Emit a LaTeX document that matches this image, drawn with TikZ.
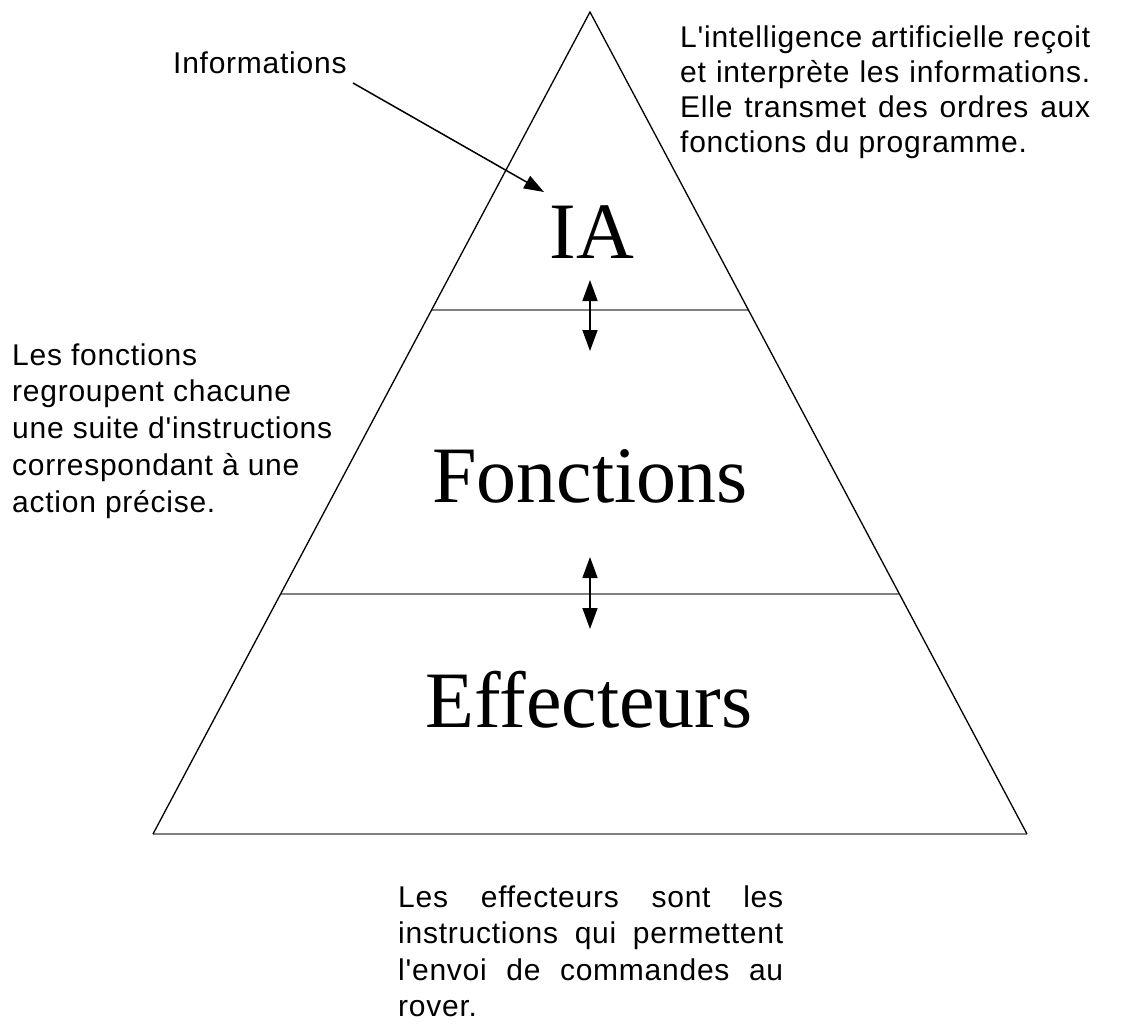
\documentclass[tikz,border=0pt]{standalone}
\usepackage{fontspec}
\setmainfont{Liberation Serif}
\newfontfamily\lsans[LetterSpace=2.5,Ligatures=TeXOff]{Liberation Sans}
\usetikzlibrary{arrows.meta}
\begin{document}
\begin{tikzpicture}[x=1pt,y=-1pt,
  edge/.style={line width=1.3pt, black},
  divider/.style={line width=1.8pt, black!50},
  big/.style={font=\fontsize{80}{90}\selectfont, inner sep=0pt, anchor=base},
  note/.style={font=\lsans\fontsize{30}{35}\selectfont, inner sep=0pt, anchor=base west},
  link/.style={line width=1.5pt, -{Triangle[length=20pt,width=14pt]}},
  both/.style={line width=1.5pt, {Triangle[length=21pt,width=15pt]}-{Triangle[length=21pt,width=15pt]}}]
\useasboundingbox (0,0) rectangle (1128,1025);
\fill[white] (0,0) rectangle (1128,1025);
% pyramid
\coordinate (apex) at (590,12);
\coordinate (bl) at (153,834);
\coordinate (br) at (1027,834);
\coordinate (d1l) at (431.6,310);
\coordinate (d1r) at (748.4,310);
\coordinate (d2l) at (280.6,594);
\coordinate (d2r) at (899.4,594);
\draw[divider] (d1l) -- (d1r);
\draw[divider] (d2l) -- (d2r);
\draw[divider] (bl) -- (br);
\draw[edge, line join=miter] (bl) -- (apex) -- (br);
% level labels
\node[big] (ia) at (592,258) {IA};
\node[big] (fonc) at (590,502) {Fonctions};
\node[big] (eff) at (589,727) {Effecteurs};
% double arrows
\coordinate (a1t) at (590,280);
\coordinate (a1b) at (590,351);
\coordinate (a2t) at (590,557);
\coordinate (a2b) at (590,629);
\draw[both] (a1t) -- (a1b);
\draw[both] (a2t) -- (a2b);
% informations
\node[note] (info) at (173,74) {Informations};
\coordinate (infos) at (353,83);
\coordinate (infoe) at (544,192);
\draw[link] (infos) -- (infoe);
% notes
\node[note] (noteia) at (680,48) {\parbox[t]{410pt}{L'intelligence artificielle reçoit\linebreak et interprète les informations.\linebreak Elle transmet des ordres aux\linebreak fonctions du programme.}};
\node[note, font=\lsans\fontsize{30}{36.75}\selectfont] (notefonc) at (12,365) {\parbox[t]{345pt}{\raggedright Les fonctions\\ regroupent chacune\\ une suite d'instructions\\ correspondant à une\\ action précise.}};
\node[note, font=\lsans\fontsize{30}{36.5}\selectfont] (noteeff) at (398,907) {\parbox[t]{385pt}{Les effecteurs sont les\linebreak instructions qui permettent\linebreak l'envoi de commandes au\linebreak rover.}};
\end{tikzpicture}
\end{document}
